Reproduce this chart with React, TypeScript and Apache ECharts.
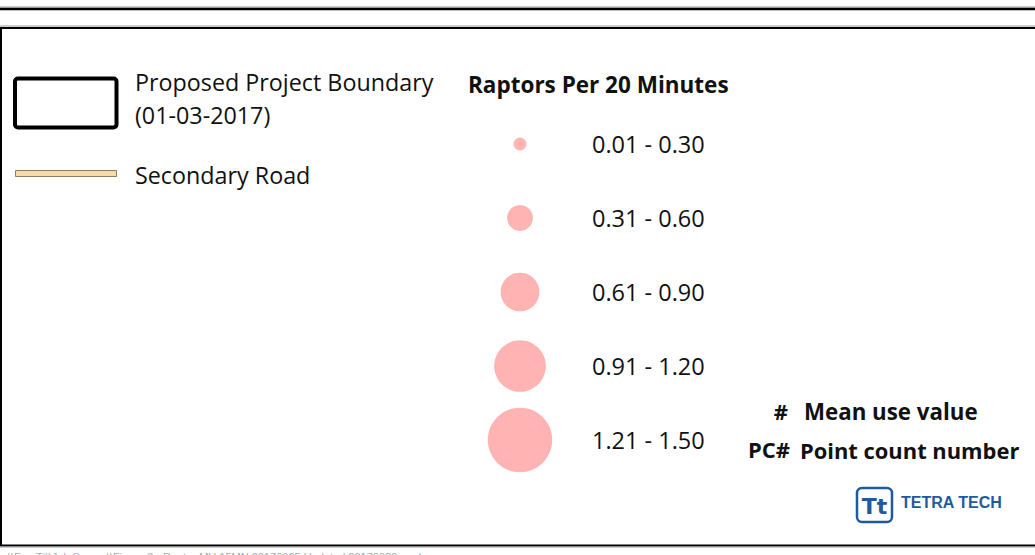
import React, { useEffect, useRef } from "react";
import * as echarts from "echarts";

const classLabels = ["0.01 - 0.30", "0.31 - 0.60", "0.61 - 0.90", "0.91 - 1.20", "1.21 - 1.50"];
const classUpper = [0.3, 0.6, 0.9, 1.2, 1.5];
const legendTitle = "Raptors Per 20 Minutes";
const boundaryLabel = ["Proposed Project Boundary", "(01-03-2017)"];
const roadLabel = "Secondary Road";
const keyItems = [
  { sym: "#", text: "Mean use value" },
  { sym: "PC#", text: "Point count number" },
];
const footerText = "\\\\Eco Tt\\\\Job Survey\\\\Figure 3 - Raptor MU 15MN 20170925 Updated 20170929.mxd";

const FONT = "'Open Sans', Lato, sans-serif";
const BLUE = "#1f5a9c";

export default function App() {
  const ref = useRef<HTMLDivElement>(null);
  useEffect(() => {
    const chart = echarts.init(ref.current!, null, { renderer: "svg" });
    const option: any = {
      animation: false,
      backgroundColor: "#ffffff",
      grid: { left: 470, width: 100, top: 107, height: 370 },
      xAxis: { type: "value", min: -1, max: 1, show: false },
      yAxis: {
        type: "category",
        inverse: true,
        position: "right",
        data: classLabels,
        axisLine: { show: false },
        axisTick: { show: false },
        splitLine: { show: false },
        axisLabel: {
          margin: 22,
          fontSize: 23.5,
          fontFamily: FONT,
          color: "#111",
          verticalAlign: "middle",
          lineHeight: 28,
          padding: [3, 0, 0, 0],
        },
      },
      series: [
        {
          type: "scatter",
          data: classLabels.map((c, i) => [0, c, classUpper[i]]),
          symbol: "circle",
          symbolSize: (v: any) => v[2] * 43,
          itemStyle: { color: "#ffb3b3", opacity: 1 },
          silent: true,
        },
      ],
      graphic: [
        { type: "line", shape: { x1: 0, y1: 7, x2: 1035, y2: 7 }, style: { stroke: "#9a9a9a", lineWidth: 1 } },
        { type: "line", shape: { x1: 0, y1: 9, x2: 1035, y2: 9 }, style: { stroke: "#000", lineWidth: 2.5 } },
        { type: "line", shape: { x1: 0, y1: 26, x2: 1035, y2: 26 }, style: { stroke: "#9a9a9a", lineWidth: 1 } },
        { type: "line", shape: { x1: 0, y1: 28, x2: 1035, y2: 28 }, style: { stroke: "#000", lineWidth: 2 } },
        { type: "line", shape: { x1: 1, y1: 28, x2: 1, y2: 546 }, style: { stroke: "#000", lineWidth: 2 } },
        { type: "line", shape: { x1: 0, y1: 545.5, x2: 1035, y2: 545.5 }, style: { stroke: "#000", lineWidth: 2 } },
        { type: "line", shape: { x1: 0, y1: 547, x2: 1035, y2: 547 }, style: { stroke: "#9a9a9a", lineWidth: 1 } },
        {
          type: "rect",
          shape: { x: 15, y: 78.5, width: 101.5, height: 49, r: 3 },
          style: { fill: "#fff", stroke: "#000", lineWidth: 4 },
        },
        {
          type: "rect",
          shape: { x: 15.5, y: 170.5, width: 101, height: 6 },
          style: { fill: "#f8dca8", stroke: "#8a7f6a", lineWidth: 1 },
        },
        {
          type: "text",
          style: { x: 135, y: 82, text: boundaryLabel[0], font: `23.3px ${FONT}`, fill: "#111", verticalAlign: "middle" },
        },
        {
          type: "text",
          style: { x: 135, y: 115, text: boundaryLabel[1], font: `23.3px ${FONT}`, fill: "#111", verticalAlign: "middle" },
        },
        {
          type: "text",
          style: { x: 135, y: 175, text: roadLabel, font: `23.3px ${FONT}`, fill: "#111", verticalAlign: "middle" },
        },
        {
          type: "text",
          style: { x: 468, y: 84, text: legendTitle, font: `bold 22.5px ${FONT}`, fill: "#111", verticalAlign: "middle" },
        },
        {
          type: "text",
          style: { x: 788, y: 411, text: keyItems[0].sym, font: `bold 22px ${FONT}`, fill: "#111", align: "right", verticalAlign: "middle" },
        },
        {
          type: "text",
          style: { x: 804, y: 411, text: keyItems[0].text, font: `bold 22.3px ${FONT}`, fill: "#111", verticalAlign: "middle" },
        },
        {
          type: "text",
          style: { x: 790, y: 449, text: keyItems[1].sym, font: `bold 22px ${FONT}`, fill: "#111", align: "right", verticalAlign: "middle" },
        },
        {
          type: "text",
          style: { x: 800, y: 450, text: keyItems[1].text, font: `bold 21.9px ${FONT}`, fill: "#111", verticalAlign: "middle" },
        },
        {
          type: "rect",
          shape: { x: 857, y: 488, width: 35, height: 34, r: 5 },
          style: { fill: "#fff", stroke: BLUE, lineWidth: 2.5 },
        },
        {
          type: "text",
          style: { x: 874.5, y: 506, text: "Tt", font: `bold 22px 'DejaVu Sans', sans-serif`, fill: BLUE, align: "center", verticalAlign: "middle" },
        },
        {
          type: "text",
          style: { x: 901, y: 502, text: "TETRA TECH", font: `bold 16px 'Liberation Sans', Arial, sans-serif`, fill: BLUE, verticalAlign: "middle" },
        },
        {
          type: "text",
          style: { x: 8, y: 551, text: footerText, font: `11px 'Liberation Sans', Arial, sans-serif`, fill: "#aaa", verticalAlign: "top" },
        },
      ],
    };
    chart.setOption(option);
    return () => chart.dispose();
  }, []);
  return (
    <div
      ref={ref}
      style={{ position: "fixed", left: 0, top: 0, width: 1035, height: 555, overflow: "hidden" }}
    />
  );
}
